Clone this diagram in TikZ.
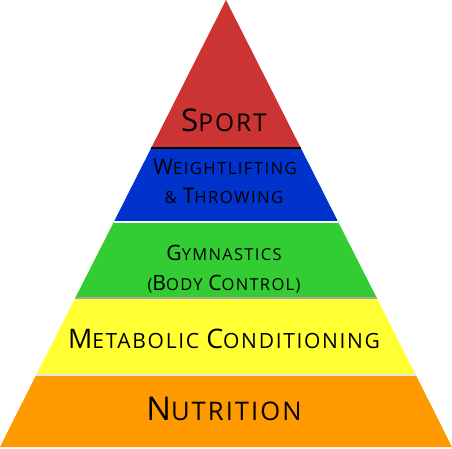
\documentclass[tikz,border=0pt]{standalone}
\usepackage{fontspec}
\setmainfont{Open Sans}[LetterSpace=8]
\usepackage{graphicx}
\definecolor{sportred}{RGB}{204,51,51}
\definecolor{liftblue}{RGB}{0,51,204}
\definecolor{gymgreen}{RGB}{51,204,51}
\definecolor{metyellow}{RGB}{255,255,51}
\definecolor{nutorange}{RGB}{255,153,0}
\newcommand\bigc[1]{\scalebox{1.28}{#1}}
\tikzset{
  band/.style={draw=none},
  label/.style={anchor=base, inner sep=0pt, align=center, text=black},
}
\begin{document}
\begin{tikzpicture}[x=1pt, y=-1pt]
      \useasboundingbox (0,0) rectangle (452,449);
      % layers, top to bottom
      \fill[sportred] (226,0) -- (300.8,148) -- (151.2,148) -- cycle;
      \fill[liftblue] (151.2,148) -- (300.8,148) -- (338.2,222) -- (113.8,222) -- cycle;
      \fill[gymgreen] (113.8,222) -- (338.2,222) -- (376.8,298) -- (75.2,298) -- cycle;
      \fill[metyellow] (75.2,298) -- (376.8,298) -- (415.8,375) -- (36.2,375) -- cycle;
      \fill[nutorange] (36.2,375) -- (415.8,375) -- (452,447) -- (0,447) -- cycle;
      \begin{scope}[line width=1.2pt]
        \draw[black] (151.2,148) -- (300.8,148);
        \draw[white] (113.8,222) -- (338.2,222);
        \draw[gray!70] (75.2,298) -- (376.8,298);
        \draw[gray!20] (36.2,375) -- (415.8,375);
      \end{scope}
      % texts
      \node[label, font=\fontsize{24.5}{28}\selectfont] (sport) at (224,132) {\bigc{S}PORT};
      \node[label, font=\fontsize{16.8}{28}\selectfont] (lift) at (225,175) {\bigc{W}EIGHTLIFTING};
      \node[label, font=\fontsize{16.8}{28}\selectfont] (throw) at (224,203) {\& \bigc{T}HROWING};
      \node[label, font=\fontsize{16.5}{28}\selectfont] (gym) at (224,260) {\bigc{G}YMNASTICS};
      \node[label, font=\fontsize{16.5}{28}\selectfont] (body) at (224,290) {(\bigc{B}ODY \bigc{C}ONTROL)};
      \node[label, font=\fontsize{21}{28}\selectfont] (metab) at (224,348) {\bigc{M}ETABOLIC \bigc{C}ONDITIONING};
      \node[label, font=\fontsize{25.6}{28}\selectfont] (nutri) at (224,420) {\bigc{N}UTRITION};
\end{tikzpicture}
\end{document}
